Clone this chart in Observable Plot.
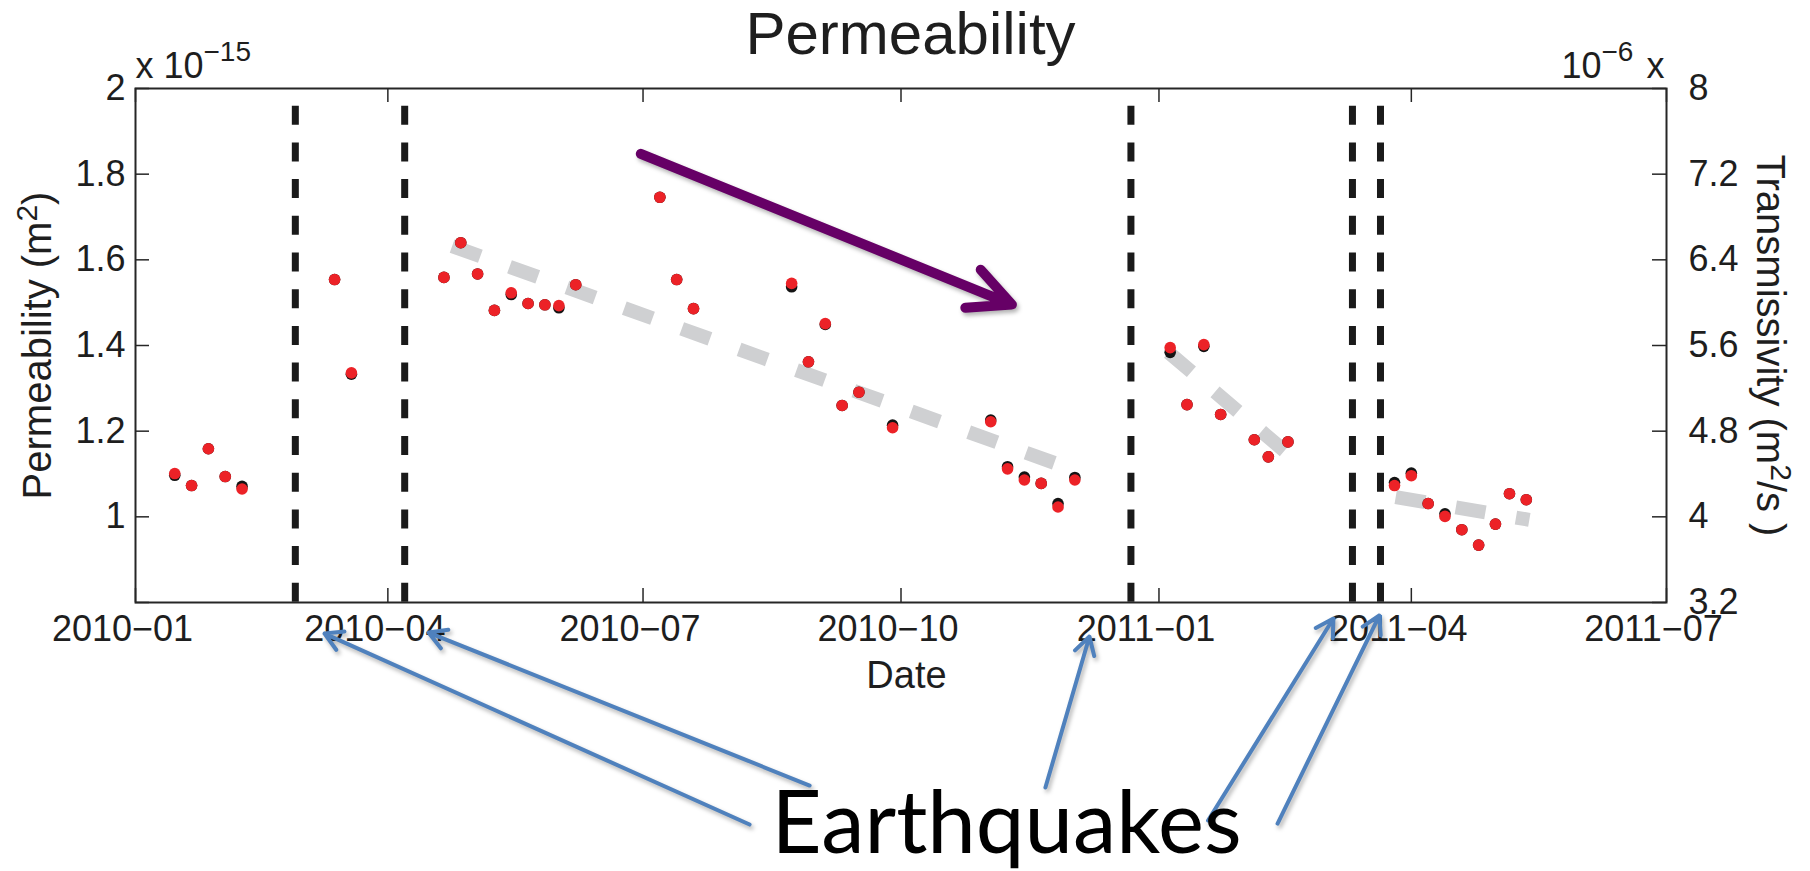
<!DOCTYPE html>
<html>
<head>
<meta charset="utf-8">
<script src="https://cdn.jsdelivr.net/npm/d3@7"></script>
<script src="https://cdn.jsdelivr.net/npm/@observablehq/plot@0.6"></script>
<style>
  html, body { margin: 0; padding: 0; background: #fff; }
  #chart svg { display: block; }
</style>
</head>
<body>
<div id="chart"></div>
<script>
// Sampling dates of the well-level record
const sampleDates = [
  "2010-01-15", "2010-01-21", "2010-01-27", "2010-02-02", "2010-02-08",
  "2010-03-13", "2010-03-19",
  "2010-04-21", "2010-04-27", "2010-05-03", "2010-05-09", "2010-05-15", "2010-05-21", "2010-05-27", "2010-06-01", "2010-06-07",
  "2010-07-07", "2010-07-13", "2010-07-19", "2010-08-23", "2010-08-29", "2010-09-04", "2010-09-10", "2010-09-16", "2010-09-28",
  "2010-11-02", "2010-11-08", "2010-11-14", "2010-11-20", "2010-11-26", "2010-12-02",
  "2011-01-05", "2011-01-11", "2011-01-17", "2011-01-23", "2011-02-04", "2011-02-09", "2011-02-16",
  "2011-03-26", "2011-04-01", "2011-04-07", "2011-04-13", "2011-04-19", "2011-04-25", "2011-05-01", "2011-05-06", "2011-05-12"
];
// Permeability, x 10^-15 m^2 (black markers, left axis)
const permeability = [
  1.097, 1.073, 1.159, 1.094, 1.071,
  1.554, 1.333,
  1.559, 1.640, 1.567, 1.482, 1.519, 1.498, 1.495, 1.488, 1.542,
  1.746, 1.554, 1.486, 1.537, 1.362, 1.449, 1.260, 1.291, 1.214,
  1.226, 1.117, 1.093, 1.078, 1.031, 1.092,
  1.384, 1.262, 1.398, 1.239, 1.180, 1.140, 1.175,
  1.080, 1.102, 1.031, 1.007, 0.970, 0.934, 0.983, 1.054, 1.040
];
// Transmissivity, x 10^-6 m^2/s (red markers, right axis)
const transmissivity = [
  4.404, 4.292, 4.636, 4.376, 4.260,
  6.216, 5.344,
  6.236, 6.560, 6.268, 5.928, 6.092, 5.992, 5.980, 5.972, 6.168,
  6.984, 6.216, 5.944, 6.180, 5.448, 5.804, 5.040, 5.164, 4.832,
  4.888, 4.448, 4.344, 4.312, 4.092, 4.344,
  5.580, 5.048, 5.608, 4.956, 4.720, 4.560, 4.700,
  4.292, 4.384, 4.124, 4.004, 3.880, 3.736, 3.932, 4.216, 4.160
];
// Right axis units per left axis unit (10^-6 m^2/s per 10^-15 m^2)
const axisRatio = 4;

// Earthquake dates
const earthquakeDates = ["2010-02-27", "2010-04-07", "2010-12-22", "2011-03-11", "2011-03-21"];
const earthquakeLineTop = 1.9587;

// Linear trends between earthquakes (start and end of each segment)
const trendSegment = ["a", "a", "b", "b", "c", "c"];
const trendDates = ["2010-04-23T22:00Z", "2010-11-25T12:00Z", "2011-01-04T10:00Z", "2011-02-16T17:00Z", "2011-03-26T10:00Z", "2011-05-13T02:00Z"];
const trendValues = [1.632, 1.124, 1.384, 1.143, 1.046, 0.993];

// Overall decline arrow
const declineStart = ["2010-06-30T05:00Z", 1.8475];
const declineEnd = ["2010-11-09T13:00Z", 1.4957];

// "Earthquakes" pointers (tail near the word, head near each event)
const pointerStartDates = ["2010-08-08T00:00Z", "2010-08-29T10:00Z", "2010-11-21T12:00Z", "2011-01-18T12:00Z", "2011-02-12T07:00Z"];
const pointerStartValues = [0.2816, 0.3727, 0.368, 0.291, 0.2839];
const pointerEndDates = ["2010-03-09T10:00Z", "2010-04-15T12:00Z", "2010-12-07T05:00Z", "2011-03-04T05:00Z", "2011-03-20T14:00Z"];
const pointerEndValues = [0.7275, 0.7299, 0.7205, 0.7626, 0.7696];

// Axis ticks and labels
const xTickDates = ["2010-01-01", "2010-04-01", "2010-07-01", "2010-10-01", "2011-01-01", "2011-04-01", "2011-07-01"];
const xTickLabels = ["2010\u221201", "2010\u221204", "2010\u221207", "2010\u221210", "2011\u221201", "2011\u221204", "2011\u221207"];
const permeabilityTicks = [1, 1.2, 1.4, 1.6, 1.8, 2];
const permeabilityLabels = ["1", "1.2", "1.4", "1.6", "1.8", "2"];
const transmissivityTicks = [3.2, 4, 4.8, 5.6, 6.4, 7.2, 8];
const transmissivityLabels = ["3.2", "4", "4.8", "5.6", "6.4", "7.2", "8"];

// Axis titles: [text before exponent, exponent, text after]
const leftTitle = ["Permeability (m", "2", ")"];
const rightTitle = ["Transmissivity (m", "2", "/s )"];

const parse = (s) => new Date(s);

const samples = sampleDates.map((d, i) => ({
  date: parse(d),
  perm: permeability[i],
  trans: transmissivity[i] / axisRatio
}));
const trend = trendDates.map((d, i) => ({date: parse(d), value: trendValues[i], segment: trendSegment[i]}));
const pointers = pointerStartDates.map((d, i) => ({
  x1: parse(d), y1: pointerStartValues[i],
  x2: parse(pointerEndDates[i]), y2: pointerEndValues[i]
}));
const decline = [{x1: parse(declineStart[0]), y1: declineStart[1], x2: parse(declineEnd[0]), y2: declineEnd[1]}];
const xTicks = xTickDates.map(parse);
const rightTickPositions = transmissivityTicks.map((t) => t / axisRatio);

const W = 1810, H = 871;
const mL = 135, mR = 144, mT = 88, mB = 269;
const frameW = W - mL - mR;
const frameH = H - mT - mB;
const tickLen = 14;
const ink = "#262626";

const labelAt = (ticks, labels) => (d) => {
  const i = ticks.findIndex((t) => Math.abs(+t - +d) < 1e-6);
  return i < 0 ? "" : labels[i];
};

const chart = Plot.plot({
  width: W,
  height: H,
  marginLeft: mL,
  marginRight: mR,
  marginTop: mT,
  marginBottom: mB,
  style: {
    fontFamily: "'Liberation Sans', Arial, Helvetica, sans-serif",
    fontSize: "36px",
    color: "#1e1e1e",
    background: "#fff"
  },
  x: {type: "utc", domain: [parse("2010-01-01"), parse("2011-07-01")]},
  y: {domain: [0.8, 2]},
  marks: [
    // trend segments
    Plot.line(trend, {x: "date", y: "value", z: "segment", stroke: "#cfd0d2", strokeWidth: 14, strokeDasharray: "30,31", strokeLinecap: "butt"}),
    // earthquakes
    Plot.ruleX(earthquakeDates.map(parse), {y1: earthquakeLineTop, y2: 0.8, stroke: "#1a1a1a", strokeWidth: 7, strokeDasharray: "19,17.7"}),
    // measurements
    Plot.dot(samples, {x: "date", y: "perm", r: 5.8, fill: "#141414", stroke: "none"}),
    Plot.dot(samples, {x: "date", y: "trans", r: 5.8, fill: "#ec2227", stroke: "none"}),
    // box and inward ticks
    Plot.frame({stroke: ink, strokeWidth: 2}),
    Plot.ruleY(rightTickPositions, {insetRight: frameW - tickLen, stroke: ink, strokeWidth: 1.5}),
    Plot.ruleY(rightTickPositions, {insetLeft: frameW - tickLen, stroke: ink, strokeWidth: 1.5}),
    Plot.ruleX(xTicks, {insetTop: frameH - tickLen, stroke: ink, strokeWidth: 1.5}),
    Plot.ruleX(xTicks, {insetBottom: frameH - tickLen, stroke: ink, strokeWidth: 1.5}),
    // tick labels
    Plot.axisX(xTicks, {anchor: "bottom", tickSize: 0, tickPadding: 13, dx: -13, label: null, tickFormat: labelAt(xTicks, xTickLabels)}),
    Plot.axisY(permeabilityTicks, {anchor: "left", tickSize: 0, tickPadding: 10, label: null, tickFormat: labelAt(permeabilityTicks, permeabilityLabels)}),
    Plot.axisY(rightTickPositions, {anchor: "right", tickSize: 0, tickPadding: 22, label: null, tickFormat: labelAt(rightTickPositions, transmissivityLabels)}),
    // exponent markers
    Plot.text(["x 10"], {text: (d) => d, frameAnchor: "top-left", textAnchor: "end", lineAnchor: "bottom", dx: 68, dy: -11, fontSize: 36}),
    Plot.text(["\u221215"], {text: (d) => d, frameAnchor: "top-left", textAnchor: "start", lineAnchor: "bottom", dx: 68, dy: -28, fontSize: 28}),
    Plot.text(["10"], {text: (d) => d, frameAnchor: "top-right", textAnchor: "end", lineAnchor: "bottom", dx: -65, dy: -11, fontSize: 36}),
    Plot.text(["\u22126"], {text: (d) => d, frameAnchor: "top-right", textAnchor: "start", lineAnchor: "bottom", dx: -65, dy: -28, fontSize: 28}),
    Plot.text(["x"], {text: (d) => d, frameAnchor: "top-right", textAnchor: "start", lineAnchor: "bottom", dx: -20, dy: -11, fontSize: 36}),
    // titles
    Plot.text(["Permeability"], {text: (d) => d, frameAnchor: "top", lineAnchor: "bottom", dx: 9.5, dy: -35, fontSize: 60}),
    Plot.text(["Date"], {text: (d) => d, frameAnchor: "bottom", lineAnchor: "bottom", dx: 5.5, dy: 85, fontSize: 38}),
    Plot.text([leftTitle], {text: (d) => d.join(""), frameAnchor: "left", rotate: -90, textAnchor: "middle", lineAnchor: "bottom", dx: -85, fontSize: 40}),
    Plot.text([rightTitle], {text: (d) => d.join(""), frameAnchor: "right", rotate: 90, textAnchor: "middle", lineAnchor: "bottom", dx: 90, fontSize: 40}),
    // annotations
    Plot.arrow(decline, {x1: "x1", y1: "y1", x2: "x2", y2: "y2", stroke: "#660066", strokeWidth: 10, headLength: 7, headAngle: 52, strokeLinecap: "round", strokeLinejoin: "miter"}),
    Plot.arrow(pointers, {x1: "x1", y1: "y1", x2: "x2", y2: "y2", stroke: "#4f81bd", strokeWidth: 4, headLength: 7.5, headAngle: 60, strokeLinecap: "round"}),
    Plot.text(["Earthquakes"], {text: (d) => d, frameAnchor: "bottom-left", textAnchor: "start", lineAnchor: "bottom", dx: 636, dy: 250, fontSize: 87, fontFamily: "Lato, 'Open Sans', sans-serif", fill: "#000"})
  ]
});

// Raise the exponent in the rotated axis titles
function superscript(parts) {
  const full = parts.join("");
  chart.querySelectorAll("text").forEach((node) => {
    if (node.textContent !== full) return;
    const t = d3.select(node).text("");
    t.append("tspan").text(parts[0]);
    t.append("tspan").attr("dy", "-14px").attr("font-size", "30px").text(parts[1]);
    t.append("tspan").attr("dy", "14px").text(parts[2]);
  });
}
superscript(leftTitle);
superscript(rightTitle);

// Soft drop shadow under the annotation arrows
d3.select(chart)
  .selectAll('g[aria-label="arrow"]')
  .style("filter", "drop-shadow(2px 3px 2px rgba(0,0,0,0.3))");

document.getElementById("chart").appendChild(chart);
</script>
</body>
</html>
